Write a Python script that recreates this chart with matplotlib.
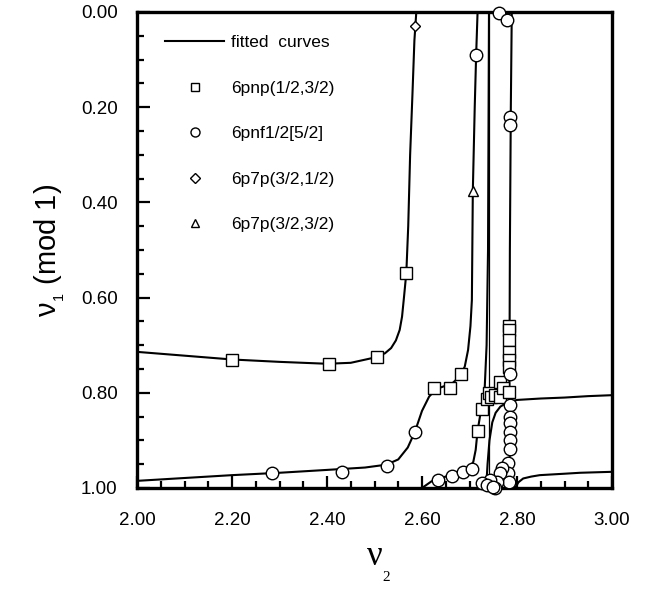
import matplotlib
matplotlib.use("Agg")
import matplotlib.pyplot as plt
from matplotlib.ticker import MultipleLocator, FormatStrFormatter
from matplotlib.lines import Line2D

plt.rcParams['font.family'] = ['Liberation Sans', 'DejaVu Sans']
plt.rcParams['mathtext.fontset'] = 'custom'
plt.rcParams['mathtext.rm'] = 'Liberation Sans'
plt.rcParams['mathtext.it'] = 'Liberation Sans'

# ---------------- data ----------------
curve_a_x = [2.00, 2.10, 2.20, 2.30, 2.40, 2.45, 2.50, 2.522, 2.535, 2.545, 2.553, 2.558, 2.562, 2.567, 2.571, 2.575, 2.580, 2.584, 2.588]
curve_a_y = [0.714, 0.722, 0.730, 0.735, 0.739, 0.737, 0.726, 0.717, 0.706, 0.690, 0.668, 0.640, 0.600, 0.548, 0.45, 0.30, 0.17, 0.06, 0.0]

curve_b_x = [2.00, 2.10, 2.20, 2.30, 2.40, 2.48, 2.525, 2.55, 2.57, 2.585, 2.60, 2.615, 2.63, 2.65, 2.665, 2.68, 2.69, 2.697, 2.702, 2.705, 2.707, 2.711, 2.714, 2.717]
curve_b_y = [0.985, 0.979, 0.973, 0.968, 0.962, 0.957, 0.951, 0.940, 0.915, 0.882, 0.838, 0.808, 0.792, 0.785, 0.779, 0.765, 0.745, 0.710, 0.660, 0.605, 0.376, 0.20, 0.09, 0.0]

curve_c_x = [2.600, 2.62, 2.64, 2.66, 2.68, 2.70, 2.708, 2.713, 2.717, 2.722, 2.727, 2.732, 2.736, 2.739, 2.741]
curve_c_y = [1.0, 0.986, 0.979, 0.973, 0.967, 0.958, 0.945, 0.920, 0.880, 0.850, 0.825, 0.790, 0.70, 0.50, 0.0]

curve_d_x = [2.742, 2.742]
curve_d_y = [0.0, 0.978]

curve_e_x = [2.735, 2.738, 2.742, 2.748, 2.755, 2.765, 2.78, 2.80, 2.85, 2.90, 2.95, 3.00]
curve_e_y = [1.0, 0.95, 0.90, 0.862, 0.842, 0.829, 0.820, 0.815, 0.812, 0.810, 0.807, 0.805]

curve_f_x = [2.789, 2.787, 2.785, 2.784, 2.785]
curve_f_y = [0.0, 0.20, 0.50, 0.80, 0.99]

curve_g_x = [2.796, 2.803, 2.813, 2.83, 2.848, 2.90, 2.933, 3.00]
curve_g_y = [1.0, 0.988, 0.980, 0.976, 0.973, 0.970, 0.968, 0.966]

sq_x = [2.20, 2.404, 2.506, 2.567, 2.625, 2.659, 2.683, 2.717, 2.727, 2.736,
        2.740, 2.745, 2.754, 2.764, 2.764, 2.770,
        2.784, 2.784, 2.784, 2.784, 2.784, 2.784, 2.784]
sq_y = [0.732, 0.740, 0.725, 0.548, 0.789, 0.789, 0.760, 0.880, 0.833, 0.814,
        0.801, 0.808, 0.805, 0.808, 0.777, 0.790,
        0.660, 0.668, 0.689, 0.714, 0.731, 0.745, 0.798]

ci_x = [2.285, 2.431, 2.526, 2.585, 2.714,
        2.634, 2.663, 2.686, 2.705,
        2.785, 2.785, 2.785, 2.785, 2.785, 2.785, 2.785, 2.782, 2.782, 2.784,
        2.768, 2.764, 2.757, 2.754, 2.743, 2.726, 2.736, 2.750,
        2.763, 2.778, 2.786, 2.786]
ci_y = [0.969, 0.966, 0.953, 0.882, 0.090,
        0.983, 0.974, 0.966, 0.960,
        0.760, 0.826, 0.850, 0.864, 0.882, 0.899, 0.919, 0.947, 0.968, 0.987,
        0.959, 0.969, 0.987, 1.000, 0.983, 0.989, 0.994, 0.997,
        0.002, 0.017, 0.220, 0.237]

di_x = [2.585]
di_y = [0.029]

tr_x = [2.707]
tr_y = [0.376]

legend_labels = ['fitted  curves', '6pnp(1/2,3/2)', '6pnf1/2[5/2]', '6p7p(3/2,1/2)', '6p7p(3/2,3/2)']
x_ticks = [2.00, 2.20, 2.40, 2.60, 2.80, 3.00]
y_ticks = [0.00, 0.20, 0.40, 0.60, 0.80, 1.00]

# ---------------- figure ----------------
fig = plt.figure(figsize=(6.46, 5.98), dpi=100)
ax = fig.add_axes([137/646, 1 - 488/598, 475/646, 476/598])

lw = 1.5
for cx, cy in [(curve_a_x, curve_a_y), (curve_b_x, curve_b_y), (curve_c_x, curve_c_y),
               (curve_e_x, curve_e_y), (curve_f_x, curve_f_y), (curve_g_x, curve_g_y)]:
    ax.plot(cx, cy, color='black', lw=lw, solid_capstyle='butt', solid_joinstyle='round', zorder=2)
ax.plot(curve_d_x, curve_d_y, color='black', lw=0.9, zorder=2)

mk = dict(linestyle='none', markerfacecolor='white', markeredgecolor='black',
          markeredgewidth=1.0)
ax.plot(sq_x, sq_y, marker='s', markersize=8.5, clip_on=False, zorder=3, **mk)
ax.plot(ci_x, ci_y, marker='o', markersize=9, clip_on=False, zorder=3, **mk)
ax.plot(di_x, di_y, marker='D', markersize=5.5, clip_on=False, zorder=3, **mk)
ax.plot(tr_x, tr_y, marker='^', markersize=7, clip_on=False, zorder=3, **mk)

ax.set_xlim(2.0, 3.0)
ax.set_ylim(1.0, 0.0)
ax.set_xticks(x_ticks)
ax.set_yticks(y_ticks)
ax.xaxis.set_major_formatter(FormatStrFormatter('%.2f'))
ax.yaxis.set_major_formatter(FormatStrFormatter('%.2f'))
ax.xaxis.set_minor_locator(MultipleLocator(0.05))
ax.yaxis.set_minor_locator(MultipleLocator(0.05))
ax.tick_params(which='both', direction='in', top=False, right=False, width=1.6, labelsize=13.5)
ax.tick_params(which='major', length=9)
ax.tick_params(which='minor', length=5)
ax.tick_params(axis='x', pad=17)
ax.tick_params(axis='y', pad=14)
for s in ax.spines.values():
    s.set_linewidth(2.4)

# legend
handles = [Line2D([], [], color='black', lw=lw),
           Line2D([], [], marker='s', markersize=6, **mk),
           Line2D([], [], marker='o', markersize=6.5, **mk),
           Line2D([], [], marker='D', markersize=5, **mk),
           Line2D([], [], marker='^', markersize=6, **mk)]
leg = ax.legend(handles, legend_labels, loc='upper left', bbox_to_anchor=(0.045, 0.966),
                frameon=False, fontsize=12.5, handlelength=3.4, handletextpad=0.4,
                labelspacing=1.75, borderaxespad=0)

# axis labels
ax.set_ylabel('ν$_{_1}$ (mod 1)', fontsize=21, labelpad=10)
fig.text(375/646, 1 - 565/598, 'ν', family='Liberation Serif', fontsize=25, ha='center', va='baseline')
fig.text(386/646, 1 - 581/598, '2', family='Liberation Serif', fontsize=11, ha='center', va='baseline')

fig.savefig('out.png', dpi=100)
